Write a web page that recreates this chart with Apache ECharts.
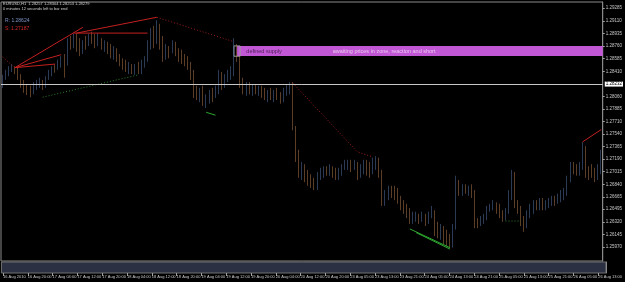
<!DOCTYPE html>
<html><head><meta charset="utf-8">
<script src="https://cdn.jsdelivr.net/npm/echarts@6/dist/echarts.min.js"></script>
<style>html,body{margin:0;padding:0;background:#000;overflow:hidden}#c{width:625px;height:282px}</style>
</head><body><div id="c"></div>
<script>
// ---- time axis tick labels (one every 8 H1 bars) ----
const timeLabels = ["16 Aug 2010","16 Aug 20:00","17 Aug 04:00","17 Aug 12:00","17 Aug 20:00","18 Aug 04:00","18 Aug 12:00","18 Aug 20:00","19 Aug 04:00","19 Aug 12:00","19 Aug 20:00","20 Aug 04:00","20 Aug 12:00","20 Aug 20:00","23 Aug 05:00","23 Aug 13:00","23 Aug 21:00","24 Aug 05:00","24 Aug 13:00","24 Aug 21:00","25 Aug 05:00","25 Aug 13:00","25 Aug 21:00","26 Aug 05:00","26 Aug 13:00"];
// ---- price axis tick labels ----
const priceTicks = [1.25970,1.26145,1.26320,1.26495,1.26665,1.26840,1.27015,1.27190,1.27365,1.27540,1.27710,1.27885,1.28060,1.28410,1.28585,1.28760,1.28935,1.29110,1.29285];
const priceMin = 1.25775, priceMax = 1.29372;
const horizontalLevel = 1.28232;
const supplyZone = [1.28621, 1.28760];
const resistance = 1.28624, support = 1.27187;
const headerQuote = "EURUSD,H1  1.28257 1.28304 1.28253 1.28279";
const headerTimer = "0 minutes 12 seconds left to bar end";

// ---- EURUSD H1 bars ----
const closes = [1.2832,1.2840,1.2843,1.2847,1.2843,1.2834,1.2823,1.2818,1.2815,1.2812,
1.2821,1.2823,1.2826,1.2821,1.2832,1.2840,1.2846,1.2843,1.2854,1.2857,
1.2851,1.2882,1.2879,1.2884,1.2873,1.2868,1.2879,1.2876,1.2887,1.2884,
1.2879,1.2890,1.2876,1.2879,1.2871,1.2865,1.2871,1.2859,1.2854,1.2851,
1.2846,1.2848,1.2843,1.2846,1.2840,1.2851,1.2857,1.2879,1.2896,1.2884,
1.2907,1.2876,1.2865,1.2871,1.2868,1.2879,1.2868,1.2862,1.2859,1.2857,
1.2848,1.2834,1.2812,1.2809,1.2812,1.2801,1.2804,1.2809,1.2804,1.2815,
1.2834,1.2821,1.2832,1.2837,1.2840,1.2879,1.2859,1.2823,1.2818,1.2821,
1.2815,1.2818,1.2812,1.2815,1.2809,1.2807,1.2809,1.2804,1.2809,1.2807,
1.2804,1.2815,1.2821,1.2823,1.2765,1.2723,1.2704,1.2707,1.2696,1.2690,
1.2684,1.2682,1.2696,1.2701,1.2704,1.2701,1.2707,1.2698,1.2696,1.2701,
1.2709,1.2712,1.2715,1.2709,1.2712,1.2696,1.2707,1.2712,1.2704,1.2701,
1.2715,1.2718,1.2698,1.2662,1.2668,1.2676,1.2673,1.2671,1.2662,1.2657,
1.2648,1.2643,1.2637,1.2640,1.2643,1.2637,1.2640,1.2634,1.2643,1.2648,
1.2621,1.2618,1.2623,1.2609,1.2607,1.2601,1.2623,1.2690,1.2676,1.2679,
1.2676,1.2679,1.2671,1.2629,1.2626,1.2632,1.2637,1.2651,1.2654,1.2657,
1.2648,1.2643,1.2637,1.2646,1.2668,1.2696,1.2657,1.2648,1.2632,1.2623,
1.2643,1.2651,1.2657,1.2654,1.2659,1.2654,1.2657,1.2659,1.2662,1.2659,
1.2665,1.2671,1.2673,1.2690,1.2709,1.2707,1.2701,1.2709,1.2734,1.2704,
1.2698,1.2696,1.2693,1.2704,1.2718];
const opens = [1.2829,1.2832,1.2840,1.2843,1.2847,1.2843,1.2834,1.2823,1.2818,1.2815,
1.2812,1.2821,1.2823,1.2826,1.2821,1.2832,1.2840,1.2846,1.2843,1.2854,
1.2857,1.2851,1.2882,1.2879,1.2884,1.2873,1.2868,1.2879,1.2876,1.2887,
1.2884,1.2879,1.2890,1.2876,1.2879,1.2871,1.2865,1.2871,1.2859,1.2854,
1.2851,1.2846,1.2848,1.2843,1.2846,1.2840,1.2851,1.2857,1.2879,1.2896,
1.2884,1.2907,1.2876,1.2865,1.2871,1.2868,1.2879,1.2868,1.2862,1.2859,
1.2857,1.2848,1.2834,1.2812,1.2809,1.2812,1.2801,1.2804,1.2809,1.2804,
1.2815,1.2834,1.2821,1.2832,1.2837,1.2840,1.2879,1.2859,1.2823,1.2818,
1.2821,1.2815,1.2818,1.2812,1.2815,1.2809,1.2807,1.2809,1.2804,1.2809,
1.2807,1.2804,1.2815,1.2821,1.2823,1.2765,1.2723,1.2704,1.2707,1.2696,
1.2690,1.2684,1.2682,1.2696,1.2701,1.2704,1.2701,1.2707,1.2698,1.2696,
1.2701,1.2709,1.2712,1.2715,1.2709,1.2712,1.2696,1.2707,1.2712,1.2704,
1.2701,1.2715,1.2718,1.2698,1.2662,1.2668,1.2676,1.2673,1.2671,1.2662,
1.2657,1.2648,1.2643,1.2637,1.2640,1.2643,1.2637,1.2640,1.2634,1.2643,
1.2648,1.2621,1.2618,1.2623,1.2609,1.2607,1.2601,1.2623,1.2690,1.2676,
1.2679,1.2676,1.2679,1.2671,1.2629,1.2626,1.2632,1.2637,1.2651,1.2654,
1.2657,1.2648,1.2643,1.2637,1.2646,1.2668,1.2696,1.2657,1.2648,1.2632,
1.2623,1.2643,1.2651,1.2657,1.2654,1.2659,1.2654,1.2657,1.2659,1.2662,
1.2659,1.2665,1.2671,1.2673,1.2690,1.2709,1.2707,1.2701,1.2709,1.2734,
1.2704,1.2698,1.2696,1.2693,1.2704];
const highs = [1.2836,1.2843,1.2848,1.2851,1.2848,1.2846,1.2837,1.2829,1.2823,1.2821,
1.2826,1.2829,1.2832,1.2829,1.2834,1.2843,1.2848,1.2851,1.2857,1.2862,
1.2865,1.2887,1.2890,1.2893,1.2894,1.2887,1.2884,1.2890,1.2893,1.2896,
1.2893,1.2894,1.2887,1.2884,1.2882,1.2879,1.2876,1.2873,1.2865,1.2859,
1.2857,1.2854,1.2851,1.2851,1.2854,1.2857,1.2862,1.2884,1.2901,1.2904,
1.2912,1.2907,1.2890,1.2879,1.2876,1.2884,1.2882,1.2873,1.2871,1.2865,
1.2862,1.2854,1.2843,1.2821,1.2818,1.2821,1.2809,1.2815,1.2818,1.2821,
1.2843,1.2840,1.2837,1.2843,1.2848,1.2887,1.2879,1.2862,1.2832,1.2826,
1.2826,1.2823,1.2823,1.2821,1.2821,1.2818,1.2815,1.2818,1.2815,1.2818,
1.2812,1.2818,1.2823,1.2826,1.2826,1.2765,1.2732,1.2715,1.2712,1.2704,
1.2698,1.2693,1.2701,1.2707,1.2709,1.2709,1.2712,1.2709,1.2707,1.2707,
1.2712,1.2718,1.2718,1.2718,1.2718,1.2715,1.2712,1.2718,1.2718,1.2715,
1.2721,1.2723,1.2721,1.2704,1.2676,1.2682,1.2682,1.2682,1.2679,1.2668,
1.2662,1.2657,1.2651,1.2646,1.2646,1.2643,1.2646,1.2643,1.2646,1.2654,
1.2648,1.2632,1.2629,1.2626,1.2621,1.2615,1.2629,1.2696,1.2690,1.2684,
1.2684,1.2682,1.2684,1.2676,1.2637,1.2640,1.2643,1.2654,1.2657,1.2662,
1.2659,1.2657,1.2648,1.2651,1.2676,1.2704,1.2701,1.2662,1.2654,1.2640,
1.2648,1.2657,1.2662,1.2662,1.2665,1.2665,1.2662,1.2665,1.2668,1.2668,
1.2671,1.2676,1.2679,1.2696,1.2715,1.2715,1.2712,1.2715,1.2743,1.2737,
1.2709,1.2712,1.2707,1.2712,1.2732];
const lows = [1.2818,1.2829,1.2834,1.2840,1.2837,1.2829,1.2818,1.2811,1.2808,1.2805,
1.2809,1.2815,1.2818,1.2815,1.2818,1.2829,1.2834,1.2839,1.2843,1.2846,
1.2832,1.2849,1.2871,1.2873,1.2868,1.2862,1.2865,1.2871,1.2876,1.2879,
1.2873,1.2876,1.2871,1.2868,1.2865,1.2859,1.2857,1.2854,1.2848,1.2843,
1.2840,1.2837,1.2837,1.2836,1.2837,1.2837,1.2846,1.2854,1.2871,1.2873,
1.2879,1.2871,1.2854,1.2857,1.2859,1.2866,1.2862,1.2854,1.2851,1.2848,
1.2843,1.2829,1.2804,1.2801,1.2798,1.2793,1.2790,1.2796,1.2798,1.2804,
1.2809,1.2815,1.2818,1.2826,1.2829,1.2834,1.2854,1.2818,1.2809,1.2807,
1.2809,1.2807,1.2809,1.2807,1.2804,1.2801,1.2798,1.2801,1.2798,1.2801,
1.2796,1.2798,1.2807,1.2809,1.2759,1.2715,1.2693,1.2690,1.2687,1.2682,
1.2679,1.2676,1.2676,1.2690,1.2693,1.2696,1.2696,1.2693,1.2690,1.2690,
1.2696,1.2704,1.2704,1.2701,1.2704,1.2690,1.2693,1.2698,1.2696,1.2693,
1.2698,1.2704,1.2693,1.2654,1.2654,1.2662,1.2665,1.2662,1.2657,1.2648,
1.2643,1.2637,1.2629,1.2629,1.2632,1.2629,1.2632,1.2626,1.2629,1.2637,
1.2612,1.2609,1.2607,1.2601,1.2598,1.2596,1.2596,1.2621,1.2668,1.2668,
1.2671,1.2668,1.2665,1.2623,1.2623,1.2626,1.2629,1.2634,1.2646,1.2648,
1.2643,1.2637,1.2632,1.2634,1.2643,1.2662,1.2651,1.2643,1.2626,1.2618,
1.2623,1.2637,1.2643,1.2648,1.2648,1.2648,1.2648,1.2651,1.2654,1.2654,
1.2657,1.2659,1.2662,1.2668,1.2687,1.2698,1.2696,1.2696,1.2704,1.2693,
1.2690,1.2693,1.2687,1.2690,1.2698];

// ---- drawn objects: [barIndex, price] endpoints ----
const redSolidLines = [
  [[4.3,1.2846],[26.1,1.2902]],
  [[4.3,1.2846],[19.3,1.2864]],
  [[4.3,1.2846],[16.5,1.2851]],
  [[22.9,1.2894],[46.8,1.2894]],
  [[23.5,1.2894],[50.0,1.2916]],
  [[187.8,1.2743],[194,1.2760]]
];
const redDottedLines = [
  [[0,1.2861],[4.3,1.2846]],
  [[50.0,1.2916],[74.6,1.2882]],
  [[93.8,1.2825],[114.6,1.2729],[120.4,1.2722]]
];
const greenDottedLines = [
  [[12.9,1.2805],[44.3,1.2836]],
  [[162.6,1.2633],[168.3,1.2633]]
];
const greenSolidLines = [
  [[65.7,1.2784],[69.2,1.2780]],
  [[132.2,1.2622],[145.0,1.2596]],
  [[133.6,1.2617],[145.0,1.2594]]
];
const supplyStartBar = 76;
const zoneTexts = [
  {at:[78.6,1.28690], text:'defined supply', color:'#2a1030'},
  {at:[107.3,1.28690], text:'awaiting prices in zone, reaction and short', color:'#f4e4f6'}
];

const categories = closes.map((_, i) => String(i));
const ohlc = closes.map((c, i) => [opens[i], c, lows[i], highs[i]]);
const FONT = 'Liberation Sans';

function lineSeries(list, color, type) {
  return list.map(pts => ({
    type:'line', xAxisIndex:0, yAxisIndex:0, data:pts, showSymbol:false, symbol:'none',
    silent:true, z:4, lineStyle:{color:color, width:1, type:type}
  }));
}

const chart = echarts.init(document.getElementById('c'), null, {renderer:'canvas'});
chart.setOption({
  backgroundColor:'#000000',
  animation:false,
  grid:[
    {left:1, right:15, top:2, height:259, show:true, borderColor:'#8a8a8a', borderWidth:1, backgroundColor:'#000'},
    {left:1, right:15, top:262, height:11, show:true, borderColor:'#707070', borderWidth:1, backgroundColor:'#2b3142'}
  ],
  xAxis:[
    {type:'category', gridIndex:0, data:categories, boundaryGap:true,
     axisLine:{show:false}, axisTick:{show:false}, axisLabel:{show:false}, splitLine:{show:false}},
    {type:'category', gridIndex:1, data:categories, boundaryGap:true, position:'bottom',
     axisLine:{show:false},
     axisTick:{show:true, interval:7, alignWithLabel:true, length:3, lineStyle:{color:'#a0a0a0'}},
     axisLabel:{show:true, interval:7, align:'left', margin:2, fontSize:4, fontFamily:FONT, color:'#c8c8c8',
       formatter:(v, idx) => timeLabels[idx/8] || ''},
     splitLine:{show:false}}
  ],
  yAxis:[
    {type:'value', gridIndex:0, position:'right', min:priceMin, max:priceMax,
     axisLine:{show:true, lineStyle:{color:'#8a8a8a'}},
     axisTick:{show:true, length:2, customValues:priceTicks, lineStyle:{color:'#a0a0a0'}},
     axisLabel:{show:true, customValues:priceTicks, margin:3, fontSize:4.5, fontFamily:FONT, color:'#c8c8c8',
       formatter:v => v.toFixed(5)},
     splitLine:{show:false}},
    {type:'value', gridIndex:1, position:'right', min:0, max:1,
     axisLine:{show:true, lineStyle:{color:'#8a8a8a'}}, axisTick:{show:false}, axisLabel:{show:false}, splitLine:{show:false}}
  ],
  series:[
    {type:'candlestick', xAxisIndex:0, yAxisIndex:0, data:ohlc, barWidth:1, z:3,
     itemStyle:{color:'#5676ab', color0:'#b97b4a', borderColor:'#5676ab', borderColor0:'#b97b4a', borderWidth:0.5},
     markArea:{silent:true, z:1, data:[
       [{xAxis:supplyStartBar, yAxis:supplyZone[1], itemStyle:{color:'#c257d6'}}, {yAxis:supplyZone[0]}],
       [{xAxis:supplyStartBar-1, yAxis:supplyZone[1]+0.00002, itemStyle:{color:'rgba(0,0,0,0)', borderColor:'#9a9a9a', borderWidth:1}}, {xAxis:supplyStartBar+1, yAxis:supplyZone[0]-0.00002}]
     ]},
     markLine:{silent:true, symbol:'none', animation:false, precision:5, data:[{yAxis:horizontalLevel}],
       lineStyle:{color:'#c8c8c8', width:1, type:'solid'},
       label:{show:true, position:'end', distance:2, formatter:horizontalLevel.toFixed(5), fontSize:4.5, fontFamily:FONT,
         color:'#000', backgroundColor:'#ffffff', padding:[0,1,0,1]}}
    },
    {type:'scatter', xAxisIndex:0, yAxisIndex:0, symbolSize:0, silent:true, z:5,
     data: zoneTexts.map(t => ({value:t.at, label:{show:true, position:'right', distance:0, formatter:t.text,
       fontSize:5.5, fontFamily:FONT, color:t.color}}))},
    ...lineSeries(redSolidLines, '#c42020', 'solid'),
    ...lineSeries(redDottedLines, '#9a1c1c', [1,2]),
    ...lineSeries(greenDottedLines, '#2a7e2a', [1,2]),
    ...lineSeries(greenSolidLines, '#2fa82f', 'solid')
  ],
  graphic:[
    {type:'text', left:3, top:2, style:{text:headerQuote, fontSize:4, fontFamily:FONT, fill:'#d0d0d0'}},
    {type:'text', left:3, top:7, style:{text:headerTimer, fontSize:4, fontFamily:FONT, fill:'#d0d0d0'}},
    {type:'text', left:5, top:18, style:{text:'R: ' + resistance.toFixed(5), fontSize:5, fontFamily:FONT, fill:'#7f93c4'}},
    {type:'text', left:5, top:26, style:{text:'S: ' + support.toFixed(5), fontSize:5, fontFamily:FONT, fill:'#d02828'}}
  ]
});
</script></body></html>
